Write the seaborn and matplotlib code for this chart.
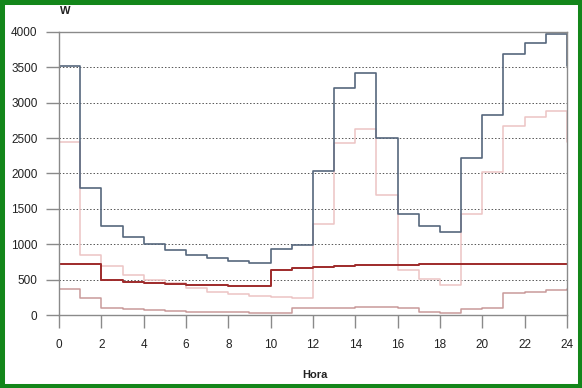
import pandas as pd
import matplotlib
matplotlib.use('Agg')
import matplotlib.pyplot as plt
from matplotlib.patches import Rectangle
import seaborn as sns

# hourly power profiles (W), hour 24 repeats hour 0
hours = list(range(25))
blue = [3520, 1800, 1265, 1105, 1000, 915, 850, 800, 765, 730, 935, 990, 2040,
        3215, 3415, 2500, 1425, 1258, 1170, 2220, 2830, 3685, 3845, 3965, 3520]
pink = [2450, 855, 690, 570, 495, 450, 385, 330, 300, 265, 250, 240, 1280,
        2430, 2625, 1700, 636, 505, 425, 1425, 2025, 2665, 2795, 2885, 2450]
red = [718, 718, 490, 468, 450, 435, 425, 418, 412, 405, 636, 668, 683,
       697, 705, 710, 712, 715, 717, 719, 720, 721, 722, 722, 718]
lower = [365, 238, 97, 80, 65, 55, 45, 45, 40, 28, 25, 95, 97,
         103, 108, 110, 95, 40, 25, 85, 95, 305, 330, 353, 365]

series_names = ['pink', 'lower', 'red', 'blue']
colors = {'pink': '#ecc4c4', 'lower': '#c99a9a', 'red': '#9e2a2a', 'blue': '#56677d'}
widths = {'pink': 1.1, 'lower': 1.1, 'red': 1.4, 'blue': 1.2}
values = {'pink': pink, 'lower': lower, 'red': red, 'blue': blue}

sns.set_style('white')
plt.rcParams['font.family'] = ['Liberation Sans', 'DejaVu Sans']

fig = plt.figure(figsize=(5.82, 3.88), dpi=100)
ax = fig.add_axes([59 / 582, 73 / 388, 508 / 582, 283 / 388])

for name in series_names:
    df = pd.DataFrame({'Hora': hours, 'W': values[name]})
    sns.lineplot(data=df, x='Hora', y='W', ax=ax, color=colors[name],
                 linewidth=widths[name], drawstyle='steps-post')

ax.set_xlim(0, 24)
ax.set_ylim(0, 4000)
ax.set_xticks(range(0, 25, 2))
ax.set_yticks(range(0, 4001, 500))
ax.set_xlabel('')
ax.set_ylabel('')

for y in range(500, 4000, 500):
    ax.axhline(y, color='#555555', linestyle=(0, (1.5, 2)), linewidth=0.7, zorder=0)

for sp in ax.spines.values():
    sp.set_color('#8a8a8a')
    sp.set_linewidth(1.0)
    sp.set_visible(True)

ax.tick_params(axis='both', direction='out', length=9.5, width=1.0,
               bottom=True, left=True, color='#8a8a8a',
               labelsize=8.5, labelcolor='#222222')
ax.tick_params(axis='x', pad=8)
ax.tick_params(axis='y', pad=6)

fig.text(60 / 582, 1 - 11 / 388, 'W', fontsize=8, fontweight='bold',
         ha='left', va='center', color='#222222')
fig.text(315 / 582, 1 - 375 / 388, 'Hora', fontsize=8, fontweight='bold',
         ha='center', va='center', color='#222222')

# green frame round the whole picture
fig.patches.append(Rectangle((0, 0), 1, 1, transform=fig.transFigure,
                             fill=False, edgecolor='#13861a', linewidth=6.5))

fig.savefig('out.png', dpi=100)
